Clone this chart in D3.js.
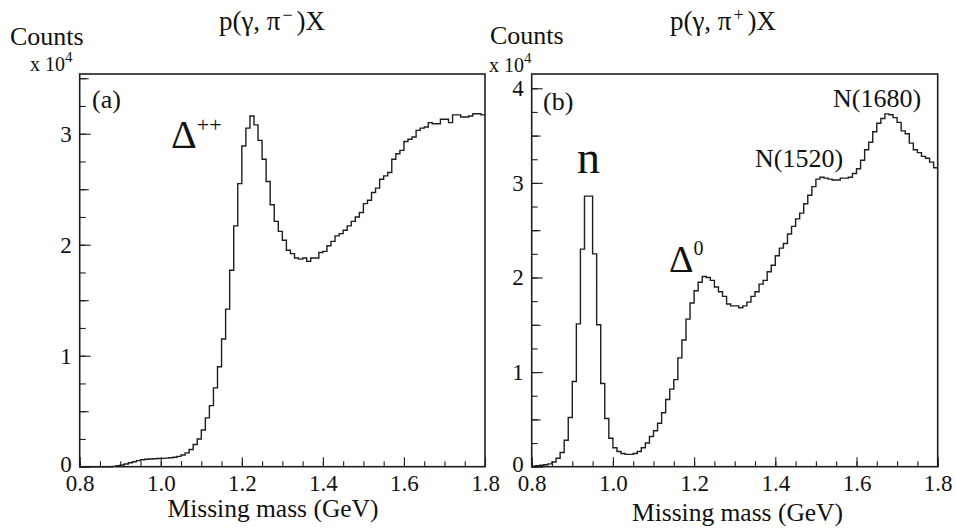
<!DOCTYPE html>
<html><head><meta charset="utf-8">
<script src="https://cdn.jsdelivr.net/npm/d3@7"></script>
<style>
html,body{margin:0;padding:0;background:#fff;}
svg{display:block;font-family:"Liberation Serif","Times New Roman",serif;}
</style></head>
<body><svg id="c" width="956" height="530"></svg>
<script>
// ---- data (counts in units of 10^4, bins of 0.01 GeV from 0.8 to 1.8) ----
const binLow = 0.8, binHigh = 1.8, binCount = 100;
const xTickLabels = [0.8, 1.0, 1.2, 1.4, 1.6, 1.8];
const yTicksA = [0, 1, 2, 3];
const yTicksB = [0, 1, 2, 3, 4];
const piMinus = [
 0,0,0,0,0,0,0,0,0.003,0.008,
 0.015,0.025,0.035,0.045,0.055,0.062,0.067,0.070,0.072,0.074,
 0.075,0.077,0.080,0.085,0.093,0.105,0.125,0.155,0.20,0.25,
 0.33,0.44,0.55,0.71,0.90,1.15,1.42,1.77,2.17,2.55,
 2.89,3.05,3.16,3.08,2.94,2.77,2.57,2.36,2.21,2.12,
 2.04,1.95,1.92,1.88,1.87,1.88,1.85,1.88,1.88,1.93,
 1.94,1.99,2.03,2.08,2.10,2.13,2.17,2.21,2.25,2.29,
 2.37,2.40,2.47,2.51,2.59,2.62,2.65,2.77,2.82,2.85,
 2.93,2.95,2.97,3.03,3.05,3.06,3.10,3.09,3.09,3.13,
 3.13,3.10,3.17,3.17,3.15,3.15,3.16,3.18,3.18,3.17];
const piPlus = [
 0.005,0.01,0.015,0.02,0.03,0.05,0.09,0.15,0.28,0.52,
 0.90,1.51,2.30,2.86,2.86,2.25,1.50,0.88,0.51,0.30,
 0.20,0.16,0.14,0.13,0.13,0.14,0.16,0.20,0.25,0.32,
 0.38,0.46,0.57,0.71,0.82,0.92,1.15,1.34,1.56,1.73,
 1.86,1.95,2.01,2.00,1.97,1.90,1.85,1.80,1.72,1.70,
 1.70,1.68,1.70,1.74,1.80,1.85,1.93,1.97,2.06,2.13,
 2.23,2.31,2.36,2.46,2.54,2.62,2.68,2.78,2.87,2.96,
 3.04,3.06,3.05,3.04,3.03,3.03,3.05,3.05,3.06,3.10,
 3.15,3.24,3.35,3.43,3.54,3.63,3.68,3.73,3.72,3.69,
 3.64,3.55,3.52,3.42,3.35,3.32,3.28,3.26,3.22,3.16];

const svg = d3.select("#c");
const panels = [
  {data: piMinus, left: 79.7, right: 485, top: 74, bottom: 466.7, ymax: 3.538, yTicks: yTicksA,
   title: "−", titleX: 272, label: "(a)", labelX: 92, labelY: 108, titleAxisX: 273, titleAxisY: 517},
  {data: piPlus, left: 531.7, right: 937.7, top: 74, bottom: 466.7, ymax: 4.151, yTicks: yTicksB,
   title: "+", titleX: 723, label: "(b)", labelX: 543, labelY: 110, titleAxisX: 737.5, titleAxisY: 521}
];
const ink = "#1e1e1e";

panels.forEach(p => {
  const x = d3.scaleLinear().domain([binLow, binHigh]).range([p.left, p.right]);
  const y = d3.scaleLinear().domain([0, p.ymax]).range([p.bottom, p.top]);
  const g = svg.append("g");

  // minor x ticks
  const minorX = d3.range(0, 21).map(k => +(binLow + k * 0.05).toFixed(2));
  g.append("g").attr("transform", `translate(0,${p.bottom})`)
    .call(d3.axisBottom(x).tickValues(minorX).tickSizeInner(-5.5).tickSizeOuter(0).tickFormat(""))
    .call(a => a.select(".domain").remove())
    .call(a => a.selectAll("line").attr("stroke", ink).attr("stroke-width", 1.1));
  g.append("g").attr("transform", `translate(0,${p.bottom})`)
    .call(d3.axisBottom(x).tickValues(xTickLabels).tickSizeInner(-9.5).tickSizeOuter(0)
      .tickPadding(8).tickFormat(d3.format(".1f")))
    .call(a => a.select(".domain").remove())
    .call(a => a.attr("font-family", null))
    .call(a => a.selectAll("line").attr("stroke", ink).attr("stroke-width", 1.1))
    .call(a => a.selectAll("text").attr("fill", "#111").attr("font-size", 23));

  // y ticks
  const quarter = d3.range(0, Math.floor(p.ymax * 4) + 1).map(k => k * 0.25);
  const half = quarter.filter(v => Math.abs(v * 2 - Math.round(v * 2)) < 1e-6 && Math.abs(v - Math.round(v)) > 1e-6);
  g.append("g").attr("transform", `translate(${p.left},0)`)
    .call(d3.axisLeft(y).tickValues(quarter).tickSizeInner(-6).tickSizeOuter(0).tickFormat(""))
    .call(a => a.select(".domain").remove())
    .call(a => a.selectAll("line").attr("stroke", ink).attr("stroke-width", 1.1));
  g.append("g").attr("transform", `translate(${p.left},0)`)
    .call(d3.axisLeft(y).tickValues(half).tickSizeInner(-9).tickSizeOuter(0).tickFormat(""))
    .call(a => a.select(".domain").remove())
    .call(a => a.selectAll("line").attr("stroke", ink).attr("stroke-width", 1.1));
  g.append("g").attr("transform", `translate(${p.left},0)`)
    .call(d3.axisLeft(y).tickValues(p.yTicks).tickSizeInner(-11).tickSizeOuter(0).tickPadding(8).tickFormat(d3.format("d")))
    .call(a => a.select(".domain").remove())
    .call(a => a.attr("font-family", null))
    .call(a => a.selectAll("line").attr("stroke", ink).attr("stroke-width", 1.1))
    .call(a => a.selectAll("text").attr("fill", "#111").attr("font-size", 23)
      .attr("dy", d => d === 0 ? "0.2em" : "0.32em"));

  // frame
  g.append("rect").attr("x", x(binLow)).attr("y", y(p.ymax))
    .attr("width", x(binHigh) - x(binLow)).attr("height", y(0) - y(p.ymax))
    .attr("fill", "none").attr("stroke", ink).attr("stroke-width", 1.6);

  // histogram outline
  const w = (binHigh - binLow) / binCount;
  const pts = p.data.map((v, i) => [binLow + i * w, v]);
  pts.push([binHigh, p.data[p.data.length - 1]]);
  const line = d3.line().x(d => x(d[0])).y(d => y(d[1])).curve(d3.curveStepAfter);
  g.append("path").attr("d", line(pts)).attr("fill", "none")
    .attr("stroke", ink).attr("stroke-width", 1.4);

  // panel label
  g.append("text").attr("x", p.labelX).attr("y", p.labelY).attr("font-size", 26).attr("fill", "#111").text(p.label);

  // axis title
  g.append("text").attr("x", p.titleAxisX).attr("y", p.titleAxisY)
    .attr("text-anchor", "middle").attr("font-size", 25.5).attr("fill", "#111").text("Missing mass (GeV)");

  // top title
  const t = svg.append("text").attr("x", p.titleX).attr("y", 30).attr("text-anchor", "middle")
    .attr("font-size", 27).attr("fill", "#111");
  t.append("tspan").text("p(γ, π");
  t.append("tspan").attr("font-size", 18).attr("dy", -9).attr("dx", 2).text(p.title);
  t.append("tspan").attr("dy", 9).attr("dx", 4).text(")X");
});

// y-axis captions
function counts(xc, yc, xs, ys) {
  svg.append("text").attr("x", xc).attr("y", yc).attr("font-size", 26).attr("fill", "#111").text("Counts");
  const t = svg.append("text").attr("x", xs).attr("y", ys).attr("font-size", 20).attr("fill", "#111");
  t.append("tspan").text("x 10");
  t.append("tspan").attr("font-size", 15).attr("dy", -9).text("4");
}
counts(10, 45, 30, 71);
counts(490, 44, 489, 72);

// annotations
const dpp = svg.append("text").attr("x", 171).attr("y", 148).attr("font-size", 40).attr("fill", "#111");
dpp.append("tspan").text("Δ");
dpp.append("tspan").attr("font-size", 22).attr("dy", -16).attr("dx", 0).text("++");

svg.append("text").attr("x", 577).attr("y", 173).attr("font-size", 46).attr("fill", "#111").text("n");

const d0 = svg.append("text").attr("x", 669).attr("y", 272).attr("font-size", 38).attr("fill", "#111");
d0.append("tspan").text("Δ");
d0.append("tspan").attr("font-size", 20).attr("dy", -17).text("0");

svg.append("text").attr("x", 755).attr("y", 167).attr("font-size", 26).attr("fill", "#111").text("N(1520)");
svg.append("text").attr("x", 833).attr("y", 107).attr("font-size", 26).attr("fill", "#111").text("N(1680)");
</script></body></html>
